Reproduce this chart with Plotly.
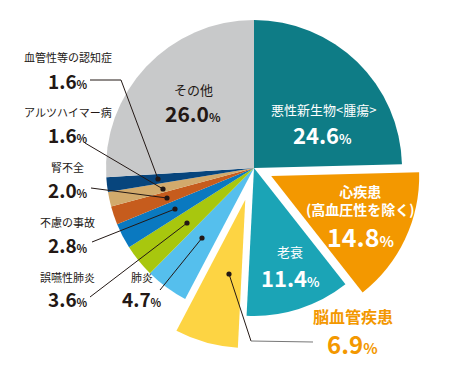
import math
import plotly.graph_objects as go

# ---- data ----
categories = ["悪性新生物<腫瘍>", "心疾患(高血圧性を除く)", "老衰", "脳血管疾患", "肺炎",
              "誤嚥性肺炎", "不慮の事故", "腎不全", "アルツハイマー病", "血管性等の認知症", "その他"]
values = [24.6, 14.8, 11.4, 6.9, 4.7, 3.6, 2.8, 2.0, 1.6, 1.6, 26.0]
colors = ["#0e7c86", "#f39800", "#1ba4b6", "#fdd443", "#55bfed",
          "#a8c70e", "#0a79c0", "#c65c1d", "#d2aa6c", "#07457d", "#c8c9ca"]
pulled = {1: 19, 3: 33}  # slice index -> pull in px

W, H = 470, 372
OFF = 8  # page body margin
R, CX, CY = 148, 254 - OFF, 168 - OFF
FONT = "Noto Sans CJK JP"
TRANSP = "rgba(0,0,0,0)"


def dom(cx, cy):
    return dict(x=[(cx - R) / W, (cx + R) / W], y=[1 - (cy + R) / H, 1 - (cy - R) / H])


def px(x):
    return (x - OFF) / W


def py(y):
    return 1 - (y - OFF) / H


fig = go.Figure()
main_cols = [TRANSP if i in pulled else c for i, c in enumerate(colors)]
common = dict(labels=categories, values=values, sort=False, direction="clockwise",
              rotation=0, textinfo="none", showlegend=False,
              hoverinfo="label+percent")
fig.add_trace(go.Pie(**common, domain=dom(CX, CY),
                     marker=dict(colors=main_cols, line=dict(width=0))))

total = sum(values)
cum = 0
for i, v in enumerate(values):
    if i in pulled:
        ang = math.radians((cum + v / 2) / total * 360)
        p = pulled[i]
        cx = CX + p * math.sin(ang)
        cy = CY - p * math.cos(ang)
        cols = [colors[j] if j == i else TRANSP for j in range(len(values))]
        fig.add_trace(go.Pie(**common, domain=dom(cx, cy),
                             marker=dict(colors=cols, line=dict(width=0))))
    cum += v

anns = []


def ann(x, y, text, size, color="#231815", bold=False, pad=1):
    anns.append(dict(x=px(x), y=py(y), xref="paper", yref="paper", text=text,
                     showarrow=False, xanchor="center", yanchor="middle", borderpad=pad,
                     font=dict(family=FONT, size=size, color=color,
                               weight="bold" if bold else "normal")))


def pct(v, small):
    return f"{v:.1f}<span style='font-size:{small}px'>%</span>"


# inside labels
ann(323, 109, "悪性新生物&lt;腫瘍&gt;", 13, "white")
ann(322, 134, pct(values[0], 13), 22, "white", True)
ann(193, 89, "その他", 13, "#231815")
ann(193, 113, pct(values[10], 12), 21, "#231815", True)
ann(360, 200, "心疾患<br>(高血圧性を除く)", 14, "white", True, 0)
ann(360, 236, pct(values[1], 15), 25, "white", True, 0)
ann(290, 251, "老衰", 13, "white")
ann(290, 277, pct(values[2], 13), 22, "white", True)
ann(353, 316, "脳血管疾患", 16, "#f39800", True)
ann(352, 343, pct(values[3], 15), 24, "#f39800", True)

# outside labels
left = [(9, 57, 80), (8, 112, 135), (7, 167, 189), (6, 222, 244), (5, 277, 298)]
for idx, ly, vy in left:
    ann(68, ly, categories[idx], 11)
    ann(68, vy, pct(values[idx], 11), 19, "#231815", True)
ann(142, 277, categories[4], 11)
ann(142, 298, pct(values[4], 11), 19, "#231815", True)

shapes = []
LC = "#231815"


def line(pts, color=LC):
    for (x0, y0), (x1, y1) in zip(pts[:-1], pts[1:]):
        shapes.append(dict(type="line", xref="paper", yref="paper",
                           x0=px(x0), y0=py(y0), x1=px(x1), y1=py(y1),
                           line=dict(color=color, width=1)))


def dot(x, y, r=2.6):
    shapes.append(dict(type="circle", xref="paper", yref="paper",
                       x0=px(x - r), x1=px(x + r), y0=py(y + r), y1=py(y - r),
                       fillcolor=LC, line=dict(width=0)))


line([(90, 80), (121, 80), (158, 179)]); dot(158, 179)
line([(85, 143), (163, 189)]); dot(163, 189)
line([(91, 188), (167, 198)]); dot(167, 198)
line([(92, 242), (175, 209)]); dot(175, 209)
line([(90, 297), (187, 223)]); dot(187, 223)
line([(160, 290), (202, 238)]); dot(202, 238)
line([(229, 274), (251, 341)])
line([(251, 341), (313, 342)], "#777777")
dot(229, 274)

fig.update_layout(width=W, height=H, margin=dict(l=0, r=0, t=0, b=0),
                  paper_bgcolor="white", plot_bgcolor="white",
                  annotations=anns, shapes=shapes,
                  font=dict(family=FONT))
fig.write_html("out.html")
